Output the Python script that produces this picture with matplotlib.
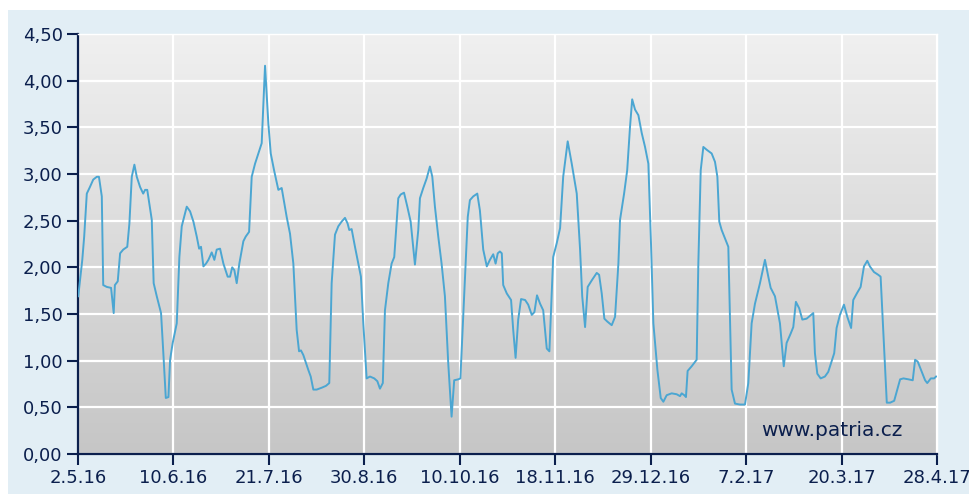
import numpy as np
import matplotlib
matplotlib.use("Agg")
import matplotlib.pyplot as plt
from matplotlib.colors import LinearSegmentedColormap
from matplotlib.patches import Rectangle

# days since 2.5.16 and the value on that day
days = [0.1, 1.8, 2.6, 3.7, 5.0, 6.4, 7.9, 8.8, 10.0, 10.6, 12.1, 13.9, 15.0, 15.5,
        16.7, 17.7, 19.0, 20.7, 21.6, 22.6, 23.7, 24.7, 26.1, 27.4, 28.2, 29.1, 31.0,
        31.8, 33.1, 34.9, 35.8, 36.9, 38.0, 38.7, 39.8, 41.5, 42.6, 43.6, 45.7, 47.1,
        48.5, 49.9, 50.9, 51.7, 52.7, 53.8, 54.8, 56.2, 57.3, 58.3, 59.7, 61.1, 62.9,
        63.9, 64.8, 65.7, 66.7, 67.8, 69.5, 70.5, 71.9, 73.0,
        74.4, 75.8, 77.2, 78.6, 80.0, 81.0, 82.4, 84.2, 85.6, 87.7, 89.1, 90.5, 91.9,
        92.9, 93.7, 94.7, 96.8, 97.8, 98.9, 100.3, 102.4, 104.2, 105.6, 106.6, 108.0,
        109.4, 110.8, 112.2, 113.3, 114.0, 115.0, 116.4, 117.8, 118.9, 119.9, 121.3,
        122.7, 124.5, 125.8, 126.9, 128.1, 129.0, 130.4, 131.8, 132.9, 134.6, 135.6,
        137.0, 138.4, 139.8, 141.6, 143.0, 143.7, 145.1, 146.5, 147.9,
        148.9, 150.0, 151.4, 152.8, 154.2, 155.6, 157.0, 158.1, 159.8, 160.7, 162.3,
        163.8, 164.7, 166.1, 167.8, 168.9, 170.3, 171.8, 173.1, 174.5, 175.5, 176.4,
        177.3, 178.1, 178.7, 180.2, 182.0, 182.9, 183.9, 185.0, 186.2, 187.9, 189.2,
        190.7, 191.8, 192.9, 194.2, 195.5, 197.0, 198.1, 199.7, 201.2, 202.6, 203.9,
        205.8, 207.5, 209.6, 211.0, 211.9, 213.1, 214.2, 215.9, 218.0, 219.0, 220.1,
        221.2,
        222.4, 224.3, 225.7, 227.1, 227.8, 229.5, 230.8, 232.0, 232.9, 234.1, 235.5,
        236.9, 238.3, 239.7, 240.8, 241.8, 243.5, 244.9, 246.0, 247.4, 249.5, 251.6,
        253.0, 253.7, 254.8, 255.5, 256.2, 257.9, 260.0, 260.7, 261.7, 262.8, 264.2,
        266.3, 267.7, 268.7, 269.5, 270.5, 271.9, 273.3, 274.0, 274.7, 276.1, 278.2,
        280.3, 281.7, 283.1, 284.5, 286.6, 288.7, 290.1, 291.1, 292.9,
        295.0, 296.6, 297.8, 299.5, 300.6, 301.7, 303.1, 304.4, 306.2, 307.6, 309.0,
        309.7, 310.7, 312.1, 313.9, 315.3, 316.7, 317.8, 318.8, 320.2, 321.9, 323.3,
        324.9, 325.8, 327.3, 328.9, 330.3, 331.7, 332.8, 334.5, 336.3, 337.3, 338.4,
        339.9, 341.3, 343.0, 344.1, 345.5, 346.9, 349.0, 350.8, 351.8, 352.9, 354.6,
        356.0, 356.9, 358.4, 359.8, 360.6]

values = [1.69, 2.08, 2.33, 2.79, 2.86, 2.94, 2.97, 2.97, 2.76, 1.81, 1.79, 1.78, 1.51, 1.81,
          1.85, 2.15, 2.19, 2.22, 2.47, 2.97, 3.10, 2.97, 2.86, 2.79, 2.83, 2.83, 2.51,
          1.83, 1.69, 1.51, 1.11, 0.60, 0.61, 1.01, 1.19, 1.40, 2.11, 2.44, 2.65, 2.60,
          2.49, 2.33, 2.20, 2.22, 2.01, 2.04, 2.08, 2.16, 2.08, 2.19, 2.20, 2.04, 1.90,
          1.90, 2.00, 1.97, 1.83, 2.04, 2.28, 2.33, 2.38, 2.97,
          3.11, 3.22, 3.33, 4.16, 3.54, 3.22, 3.04, 2.83, 2.85, 2.54, 2.36, 2.04, 1.33,
          1.10, 1.11, 1.06, 0.90, 0.83, 0.69, 0.69, 0.71, 0.73, 0.76, 1.83, 2.35,
          2.44, 2.49, 2.53, 2.47, 2.40, 2.41, 2.22, 2.04, 1.90, 1.40, 0.81,
          0.83, 0.81, 0.78, 0.70, 0.76, 1.54, 1.83, 2.04, 2.11, 2.74, 2.78,
          2.80, 2.65, 2.49, 2.03, 2.40, 2.74, 2.85, 2.95, 3.08,
          2.97, 2.65, 2.33, 2.04, 1.69, 0.97, 0.40, 0.79, 0.80, 0.81, 1.69,
          2.54, 2.72, 2.76, 2.79, 2.61, 2.19, 2.01, 2.08, 2.14, 2.04, 2.15,
          2.17, 2.15, 1.81, 1.72, 1.65, 1.33, 1.03, 1.44, 1.66, 1.65, 1.60,
          1.49, 1.52, 1.70, 1.61, 1.54, 1.13, 1.10, 2.11, 2.26, 2.42, 2.97,
          3.35, 3.11, 2.79, 2.19, 1.69, 1.36, 1.79, 1.86, 1.94, 1.92, 1.72,
          1.45,
          1.42, 1.38, 1.47, 2.04, 2.51, 2.79, 3.04, 3.51, 3.80, 3.69, 3.63,
          3.44, 3.29, 3.11, 2.26, 1.40, 0.90, 0.60, 0.56, 0.63, 0.65, 0.64,
          0.62, 0.65, 0.63, 0.61, 0.89, 0.94, 1.01, 2.04, 3.04, 3.29, 3.26,
          3.22, 3.13, 2.97, 2.49, 2.40, 2.31, 2.22, 1.47, 0.69, 0.54, 0.53,
          0.53, 0.76, 1.40, 1.61, 1.83, 2.08, 1.90, 1.78, 1.69,
          1.40, 0.94, 1.19, 1.29, 1.36, 1.63, 1.56, 1.44, 1.45, 1.48, 1.51,
          1.08, 0.86, 0.81, 0.83, 0.88, 0.99, 1.08, 1.35, 1.49, 1.60, 1.47,
          1.35, 1.65, 1.72, 1.79, 2.01, 2.07, 2.01, 1.95, 1.92, 1.90, 1.33,
          0.55, 0.55, 0.57, 0.67, 0.80, 0.81, 0.80, 0.79, 1.01, 0.99, 0.88,
          0.79, 0.76, 0.81, 0.81, 0.83]

x_labels = ["2.5.16", "10.6.16", "21.7.16", "30.8.16", "10.10.16",
            "18.11.16", "29.12.16", "7.2.17", "20.3.17", "28.4.17"]
y_ticks = [0, 0.5, 1.0, 1.5, 2.0, 2.5, 3.0, 3.5, 4.0, 4.5]

NAVY = "#0b1f4d"
LINE = "#4ba6d2"
X_MAX = 361

fig = plt.figure(figsize=(9.7, 4.94), dpi=100, facecolor="white")
# light blue panel behind the chart
panel = Rectangle((8 / 970, 0), 1, 1 - 10 / 494, transform=fig.transFigure,
                  facecolor="#e2eef5", edgecolor="none", zorder=-10)
fig.add_artist(panel)

ax = fig.add_axes([78 / 970, 40 / 494, 859 / 970, 420 / 494])
ax.set_zorder(1)
ax.set_xlim(0, X_MAX)
ax.set_ylim(0, 4.5)

# grey gradient background of the plot area
grad = np.linspace(1, 0, 256).reshape(-1, 1)
cmap = LinearSegmentedColormap.from_list("bg", ["#c6c6c6", "#f0f0f0"])
ax.imshow(grad, extent=[0, X_MAX, 0, 4.5], aspect="auto", cmap=cmap,
          origin="upper", zorder=0, interpolation="bicubic")

ax.grid(True, color="white", linewidth=1.6)
ax.set_axisbelow("line")

ax.plot(days, values, color=LINE, linewidth=1.4, zorder=3)

ax.set_xticks(np.linspace(0, X_MAX, len(x_labels)))
ax.set_xticklabels(x_labels)
ax.set_yticks(y_ticks)
ax.set_yticklabels([f"{v:.2f}".replace(".", ",") for v in y_ticks])

for s in ["top", "right"]:
    ax.spines[s].set_color("white")
    ax.spines[s].set_linewidth(1)
for s in ["left", "bottom"]:
    ax.spines[s].set_color(NAVY)
    ax.spines[s].set_linewidth(1.6)

ax.tick_params(axis="both", direction="out", length=8, width=1.5, color=NAVY,
               labelcolor=NAVY, labelsize=13)
ax.tick_params(axis="x", pad=3)
ax.tick_params(axis="y", pad=3)

ax.text(0.878, 0.057, "www.patria.cz", transform=ax.transAxes, color=NAVY,
        fontsize=14.5, ha="center", va="center", zorder=4)

fig.savefig("out.png", dpi=100, facecolor=fig.get_facecolor())
